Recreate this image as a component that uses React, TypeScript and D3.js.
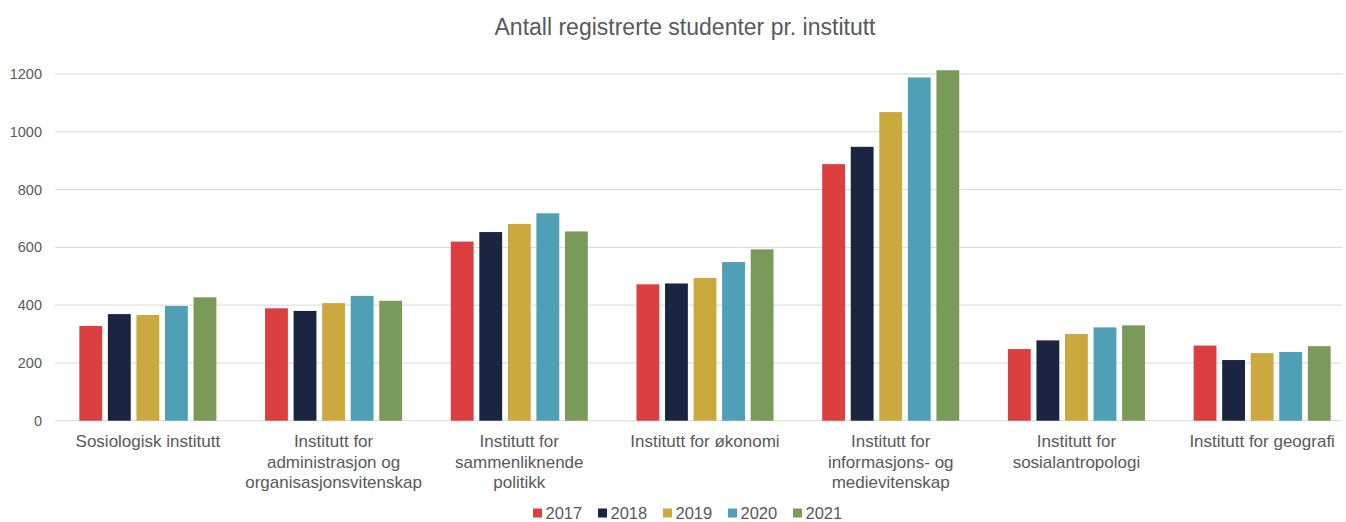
import React from "react";
import * as d3 from "d3";

const categories: string[][] = [
  ["Sosiologisk institutt"],
  ["Institutt for", "administrasjon og", "organisasjonsvitenskap"],
  ["Institutt for", "sammenliknende", "politikk"],
  ["Institutt for økonomi"],
  ["Institutt for", "informasjons- og", "medievitenskap"],
  ["Institutt for", "sosialantropologi"],
  ["Institutt for geografi"],
];
const years = ["2017", "2018", "2019", "2020", "2021"];
const v2017 = [328, 389, 620, 472, 888, 248, 260];
const v2018 = [369, 380, 653, 475, 948, 278, 210];
const v2019 = [366, 407, 681, 494, 1068, 300, 234];
const v2020 = [397, 432, 718, 549, 1188, 323, 238];
const v2021 = [427, 415, 655, 593, 1213, 330, 258];
const seriesValues = [v2017, v2018, v2019, v2020, v2021];
const colors = ["#DC3F3F", "#1B2541", "#CBA93E", "#4FA0B6", "#7A9A5A"];
const yTicks = [0, 200, 400, 600, 800, 1000, 1200];
const title = "Antall registrerte studenter pr. institutt";

const W = 1346;
const H = 522;
const plotLeft = 55;
const plotRight = 1355;
const gridRight = 1342;
const yTop = 74;
const yBottom = 420.7;
const font = "'Liberation Sans', Arial, sans-serif";
const textColor = "#595959";

export default function App() {
  const y = d3.scaleLinear().domain([0, 1200]).range([yBottom, yTop]);
  const x0 = d3
    .scaleBand<number>()
    .domain(categories.map((_, i) => i))
    .range([plotLeft, plotRight]);
  const groupW = x0.step() * 0.738;
  const x1 = d3
    .scaleBand<string>()
    .domain(years)
    .range([0, groupW])
    .paddingInner(0.2);

  const legendStart = 533;
  const legendStep = 65;

  return (
    <svg
      width={W}
      height={H}
      style={{ position: "absolute", left: 0, top: 0, background: "#fff" }}
      fontFamily={font}
    >
      <text x={685} y={35} textAnchor="middle" fontSize={23} fill={textColor}>
        {title}
      </text>
      {yTicks.map((t) => (
        <g key={t}>
          <line
            x1={plotLeft}
            x2={gridRight}
            y1={y(t)}
            y2={y(t)}
            stroke="#D9D9D9"
            strokeWidth={1}
          />
          <text
            x={42}
            y={y(t) + 5}
            textAnchor="end"
            fontSize={14.5}
            fill={textColor}
          >
            {t}
          </text>
        </g>
      ))}
      {categories.map((cat, i) => {
        const gx = (x0(i) as number) + (x0.step() - groupW) / 2;
        return (
          <g key={i}>
            {years.map((yr, s) => {
              const v = seriesValues[s][i];
              return (
                <rect
                  key={yr}
                  x={gx + (x1(yr) as number)}
                  y={y(v)}
                  width={x1.bandwidth()}
                  height={y(0) - y(v)}
                  fill={colors[s]}
                />
              );
            })}
            {cat.map((line, li) => (
              <text
                key={li}
                x={(x0(i) as number) + x0.step() / 2}
                y={447 + li * 20.5}
                textAnchor="middle"
                fontSize={17}
                fill={textColor}
              >
                {line}
              </text>
            ))}
          </g>
        );
      })}
      {years.map((yr, s) => (
        <g key={yr}>
          <rect
            x={legendStart + s * legendStep}
            y={508.5}
            width={9}
            height={9}
            fill={colors[s]}
          />
          <text
            x={legendStart + s * legendStep + 12.5}
            y={519}
            fontSize={16.5}
            fill={textColor}
          >
            {yr}
          </text>
        </g>
      ))}
    </svg>
  );
}
